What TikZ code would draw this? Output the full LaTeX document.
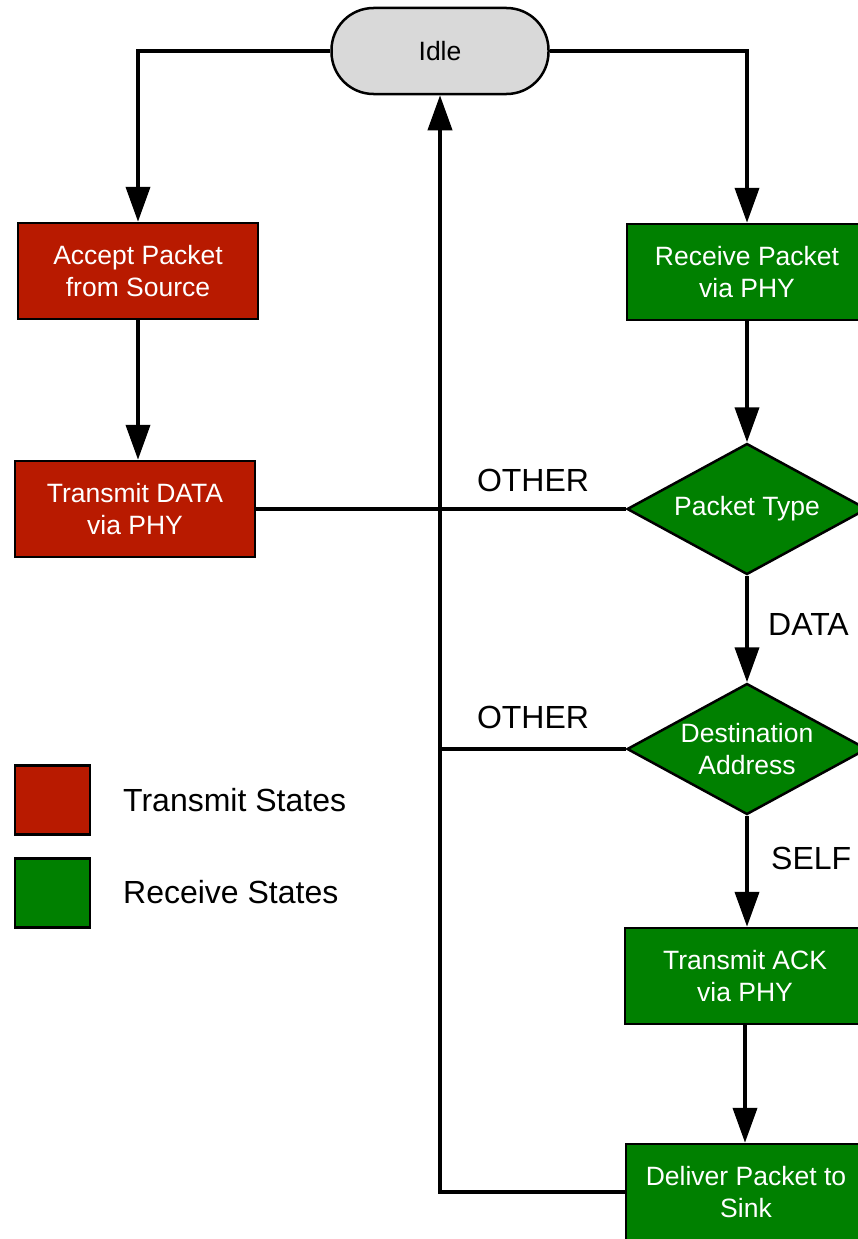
\documentclass[tikz,border=0pt]{standalone}
\usepackage{fontspec}
\setmainfont{Liberation Sans}
\usetikzlibrary{arrows.meta,shapes.geometric,shapes.misc}
\definecolor{txred}{RGB}{184,26,0}
\definecolor{rxgreen}{RGB}{0,128,0}
\definecolor{idlegrey}{RGB}{217,217,217}
\begin{document}
\begin{tikzpicture}[x=1pt,y=-1pt,
  nodefont/.style={font=\fontsize{26.5}{32}\selectfont},
  state/.style={draw=black,line width=2.5pt,minimum width=240pt,minimum height=96pt,
    inner sep=0pt,align=center,text=white,nodefont},
  txstate/.style={state,fill=txred},
  rxstate/.style={state,fill=rxgreen},
  decision/.style={diamond,shape aspect=1.83,draw=black,line width=2.5pt,fill=rxgreen,text=white,
    minimum width=240pt,minimum height=131pt,inner sep=0pt,align=center,nodefont},
  idlestate/.style={draw=black,line width=2.5pt,fill=idlegrey,rounded corners=42pt,
    minimum width=217pt,minimum height=86pt,nodefont},
  conn/.style={line width=4pt},
  arr/.style={conn,-{Triangle[length=35pt,width=24pt]}},
  lbl/.style={font=\fontsize{32}{36}\selectfont},
  legbox/.style={draw=black,line width=2.5pt,minimum width=75pt,minimum height=69pt,inner sep=0pt}
]
\useasboundingbox (0,0) rectangle (858,1239);
\clip (0,0) rectangle (858,1239);
\fill[white] (0,0) rectangle (858,1239);

\node[idlestate] (idle) at (440,51) {Idle};
\node[txstate] (accept) at (138,271) {Accept Packet\\from Source};
\node[txstate] (txdata) at (135,509) {Transmit DATA\\via PHY};
\node[rxstate] (recv) at (747,272) {Receive Packet\\via PHY};
\node[decision] (ptype) at (747,509) {Packet Type};
\node[decision] (dest) at (747,749) {Destination\\Address};
\node[rxstate] (txack) at (745,976) {Transmit ACK\\via PHY};
\node[rxstate] (deliver) at (746,1192) {Deliver Packet to\\Sink};

\node[legbox,fill=txred] (legtx) at (52.5,800) {};
\node[legbox,fill=rxgreen] (legrx) at (52.5,893) {};
\node[lbl,anchor=west,inner sep=0pt] (legtxt) at (123,800) {Transmit States};
\node[lbl,anchor=west,inner sep=0pt] (legrxt) at (123,892) {Receive States};

\draw[arr] (idle.west) -| (accept.north);
\draw[arr] (idle.east) -| (recv.north);
\draw[arr] (accept.south) -- (accept.south |- txdata.north);
\draw[arr] (recv.south) -- (ptype.north);
\draw[conn] (txdata.east) -- (ptype.west);
\draw[arr] (deliver.west) -| (idle.south);
\coordinate (destjoin) at (dest.west -| idle.south);
\draw[conn] (dest.west) -- (destjoin);
\draw[arr] (ptype.south) -- (dest.north);
\draw[arr] (dest.south) -- (dest.south |- txack.north);
\draw[arr] (txack.south) -- (txack.south |- deliver.north);

\node[lbl,inner sep=0pt] (lother1) at (533,480) {OTHER};
\node[lbl,inner sep=0pt] (lother2) at (533,717) {OTHER};
\node[lbl,inner sep=0pt,anchor=west] (ldata) at (768,624) {DATA};
\node[lbl,inner sep=0pt,anchor=west] (lself) at (771,858) {SELF};
\end{tikzpicture}
\end{document}
